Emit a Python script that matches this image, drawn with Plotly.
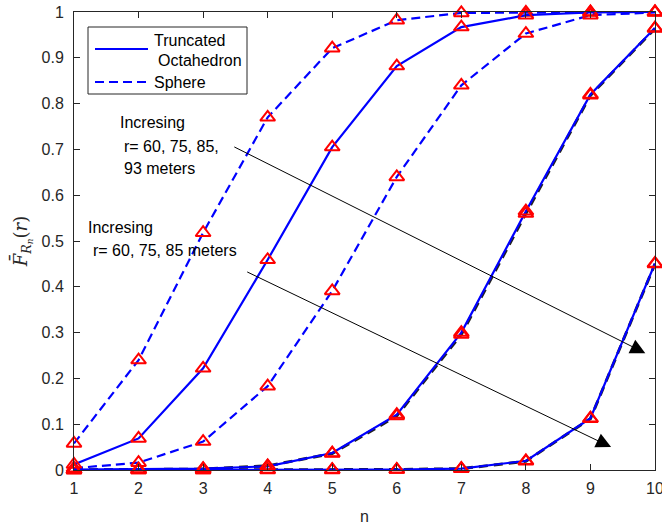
import plotly.graph_objects as go

# ---------------- data ----------------
n = [1, 2, 3, 4, 5, 6, 7, 8, 9, 10]

# Sphere (dashed blue)
sphere_a = [0.058, 0.240, 0.518, 0.770, 0.921, 0.982, 0.998, 0.999, 1.000, 1.000]
sphere_b = [0.004, 0.016, 0.062, 0.183, 0.391, 0.640, 0.840, 0.953, 0.993, 0.999]
# Sphere curves drawn under the Truncated Octahedron curves (black dashed)
sphere_c = [0.000, 0.001, 0.002, 0.009, 0.036, 0.118, 0.296, 0.560, 0.818, 0.964]
sphere_d = [0.000, 0.000, 0.000, 0.000, 0.000, 0.001, 0.003, 0.019, 0.112, 0.450]

# Truncated Octahedron (solid blue)
to_a = [0.012, 0.069, 0.222, 0.459, 0.705, 0.882, 0.967, 0.993, 0.999, 1.000]
to_b = [0.001, 0.002, 0.003, 0.008, 0.037, 0.121, 0.300, 0.565, 0.820, 0.965]
to_c = [0.000, 0.000, 0.000, 0.001, 0.001, 0.001, 0.003, 0.020, 0.113, 0.451]

xticks = [1, 2, 3, 4, 5, 6, 7, 8, 9, 10]
yticks = [0, 0.1, 0.2, 0.3, 0.4, 0.5, 0.6, 0.7, 0.8, 0.9, 1]
yticklabels = ["0", "0.1", "0.2", "0.3", "0.4", "0.5", "0.6", "0.7", "0.8", "0.9", "1"]

# ---------------- layout geometry ----------------
W, H = 662, 529
L, R, T, B = 74, 655, 12, 470  # plot-area pixel bounds


def px(xp):
    return (xp - L) / (R - L)


def py(yp):
    return (B - yp) / (B - T)


BLUE = "#0000FF"
RED = "#FF0000"
TXT = "#262626"
FONT = "Liberation Sans, Arial, Helvetica, sans-serif"
FS = 16

marker = dict(symbol="triangle-up-open", size=13, color=RED, line=dict(color=RED, width=2))

fig = go.Figure()

# black dashed sphere curves (underneath)
for ys in (sphere_c, sphere_d):
    fig.add_trace(go.Scatter(x=n, y=ys, mode="lines",
                             line=dict(color="#222222", width=3, dash="9px,6px"),
                             showlegend=False, cliponaxis=False))
# blue dashed sphere curves
for ys in (sphere_a, sphere_b):
    fig.add_trace(go.Scatter(x=n, y=ys, mode="lines+markers",
                             line=dict(color=BLUE, width=2.2, dash="9px,5px"),
                             marker=marker, showlegend=False, cliponaxis=False))
# solid TO curves
for ys in (to_a, to_b, to_c):
    fig.add_trace(go.Scatter(x=n, y=ys, mode="lines+markers",
                             line=dict(color=BLUE, width=2.2),
                             marker=marker, showlegend=False, cliponaxis=False))
# markers for the black dashed sphere curves
for ys in (sphere_c, sphere_d):
    fig.add_trace(go.Scatter(x=n, y=ys, mode="markers", marker=marker,
                             showlegend=False, cliponaxis=False))

axis_common = dict(
    showline=True, linecolor=TXT, linewidth=1, mirror="ticks",
    ticks="inside", ticklen=6, tickcolor=TXT, tickwidth=1,
    showgrid=False, zeroline=False, automargin=False,
    tickfont=dict(family=FONT, size=FS, color=TXT),
)

fig.update_xaxes(range=[1, 10], tickvals=xticks, ticktext=[str(v) for v in xticks],
                 title=dict(text="n", font=dict(family=FONT, size=FS, color=TXT), standoff=14),
                 ticklabelstandoff=4, ticklabeloverflow="allow", **axis_common)
fig.update_yaxes(range=[0, 1], tickvals=yticks, ticktext=yticklabels,
                 title=dict(text="<i>F̄</i><sub><i>R<sub>n</sub></i></sub>(<i>r</i>)",
                            font=dict(family="DejaVu Serif, Liberation Serif, serif", size=18, color=TXT),
                            standoff=9),
                 ticklabelstandoff=6, ticklabeloverflow="allow", **axis_common)

shapes = []
annotations = []

# ---- manual legend ----
shapes.append(dict(type="rect", xref="paper", yref="paper",
                   x0=px(88), x1=px(247), y0=py(27), y1=py(94),
                   line=dict(color=TXT, width=1), fillcolor="white", layer="above"))
shapes.append(dict(type="line", xref="paper", yref="paper",
                   x0=px(95), x1=px(148), y0=py(49), y1=py(49),
                   line=dict(color=BLUE, width=2.2), layer="above"))
shapes.append(dict(type="line", xref="paper", yref="paper",
                   x0=px(95), x1=px(148), y0=py(82), y1=py(82),
                   line=dict(color=BLUE, width=2.2, dash="9px,5px"), layer="above"))
for txt, x0, yc in (("Truncated", 152, 41), ("Octahedron", 156, 61), ("Sphere", 152, 82)):
    annotations.append(dict(text=txt, xref="paper", yref="paper", x=px(x0), y=py(yc),
                            xanchor="left", yanchor="middle", showarrow=False,
                            font=dict(family=FONT, size=FS, color="black")))

# ---- text annotations ----
for txt, x0, yc in (("Incresing", 118, 122), ("r= 60, 75, 85,", 122, 146), ("93 meters", 122, 168),
                    ("Incresing", 86, 227), ("r= 60, 75, 85 meters", 91, 250)):
    annotations.append(dict(text=txt, xref="paper", yref="paper", x=px(x0), y=py(yc),
                            xanchor="left", yanchor="middle", showarrow=False,
                            font=dict(family=FONT, size=FS, color="black")))

# ---- arrows (data coordinates) ----
arrow_upper = ((3.46, 0.707), (9.85, 0.255))
arrow_lower = ((3.66, 0.434), (9.32, 0.050))
for (sx, sy), (ex, ey) in (arrow_upper, arrow_lower):
    annotations.append(dict(x=ex, y=ey, ax=sx, ay=sy, xref="x", yref="y", axref="x", ayref="y",
                            text="", showarrow=True, arrowhead=2, arrowsize=3,
                            arrowwidth=1, arrowcolor="black"))

fig.update_layout(
    width=W, height=H,
    margin=dict(l=L, r=W - R, t=T, b=H - B),
    paper_bgcolor="white", plot_bgcolor="white",
    shapes=shapes, annotations=annotations,
    showlegend=False,
    font=dict(family=FONT, size=FS, color=TXT),
)

fig.write_html("out.html")
